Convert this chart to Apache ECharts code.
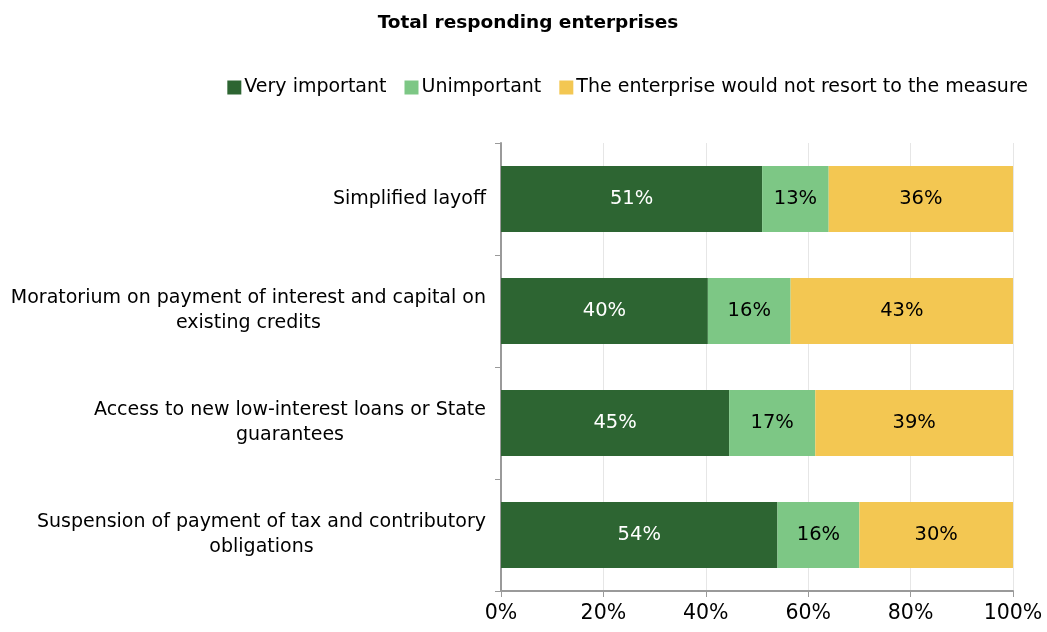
<!DOCTYPE html>
<html>
<head>
<meta charset="utf-8">
<script src="https://cdn.jsdelivr.net/npm/echarts@6/dist/echarts.min.js"></script>
<style>
  html, body { margin: 0; padding: 0; background: #fff; }
  #chart { width: 1047px; height: 632px; }
</style>
</head>
<body>
<div id="chart"></div>
<script>
// Measures, top to bottom (line breaks mark where each label wraps)
const categories = [
  'Simplified layoff',
  'Moratorium on payment of interest and capital on\nexisting credits',
  'Access to new low-interest loans or State\nguarantees',
  'Suspension of payment of tax and contributory\nobligations'
];
const seriesNames = ['Very important', 'Unimportant', 'The enterprise would not resort to the measure'];
// Shares of responding enterprises, in percent (rounded)
const veryImportant = [51, 40, 45, 54];
const unimportant   = [13, 16, 17, 16];
const wouldNotResort = [36, 43, 39, 30];
const xTicks = [0, 20, 40, 60, 80, 100];

const colors = ['#2D6532', '#7DC785', '#F3C752'];
const labelColors = ['#ffffff', '#000000', '#000000'];
const FONT = 'DejaVu Sans';

const raw = [veryImportant, unimportant, wouldNotResort];
// each row is drawn as a share of its own total so bars span the full width
const totals = categories.map((_, i) => raw.reduce((s, arr) => s + arr[i], 0));

const series = raw.map((arr, k) => ({
  name: seriesNames[k],
  type: 'bar',
  stack: 'total',
  barWidth: 66,
  itemStyle: { color: colors[k] },
  data: arr.map((v, i) => ({ value: v / totals[i] * 100, raw: v })),
  label: {
    show: true,
    position: 'inside',
    color: labelColors[k],
    fontFamily: FONT,
    fontSize: 19.5,
    formatter: p => p.data.raw + '%'
  }
}));

const chart = echarts.init(document.getElementById('chart'));
chart.setOption({
  animation: false,
  textStyle: { fontFamily: FONT },
  title: {
    text: 'Total responding enterprises',
    left: 523,
    textAlign: 'center',
    top: 9,
    textStyle: { fontFamily: FONT, fontSize: 18.5, fontWeight: 'bold', color: '#000' }
  },
  legend: {
    top: 73,
    right: 14,
    itemWidth: 14,
    itemHeight: 14,
    itemGap: 18,
    icon: 'rect',
    textStyle: { fontFamily: FONT, fontSize: 19, color: '#000', padding: [0, 0, 0, -2] },
    data: seriesNames
  },
  grid: { left: 501, right: 34, top: 143, bottom: 41, containLabel: false },
  xAxis: {
    type: 'value',
    min: xTicks[0],
    max: xTicks[xTicks.length - 1],
    interval: 20,
    axisLine: { show: true, lineStyle: { color: '#9A9A9A', width: 2 } },
    axisTick: { show: true, length: 6, lineStyle: { color: '#9A9A9A' } },
    splitLine: { show: true, lineStyle: { color: '#E6E6E6', width: 1 } },
    axisLabel: { fontFamily: FONT, fontSize: 20.5, color: '#000', margin: 12, formatter: '{value}%' }
  },
  yAxis: {
    type: 'category',
    inverse: true,
    data: categories,
    axisLine: { show: true, lineStyle: { color: '#9A9A9A', width: 2 } },
    axisTick: { show: true, length: 6, interval: 0, lineStyle: { color: '#9A9A9A' } },
    axisLabel: {
      interval: 0,
      margin: 15,
      align: 'right',
      color: '#000',
      fontFamily: FONT,
      fontSize: 19,
      lineHeight: 25,
      formatter: v => v.split('\n').map(s => '{c|' + s + '}').join('\n'),
      rich: { c: { align: 'center', fontFamily: FONT, fontSize: 19, lineHeight: 25, color: '#000' } }
    }
  },
  series: series
});
</script>
</body>
</html>
